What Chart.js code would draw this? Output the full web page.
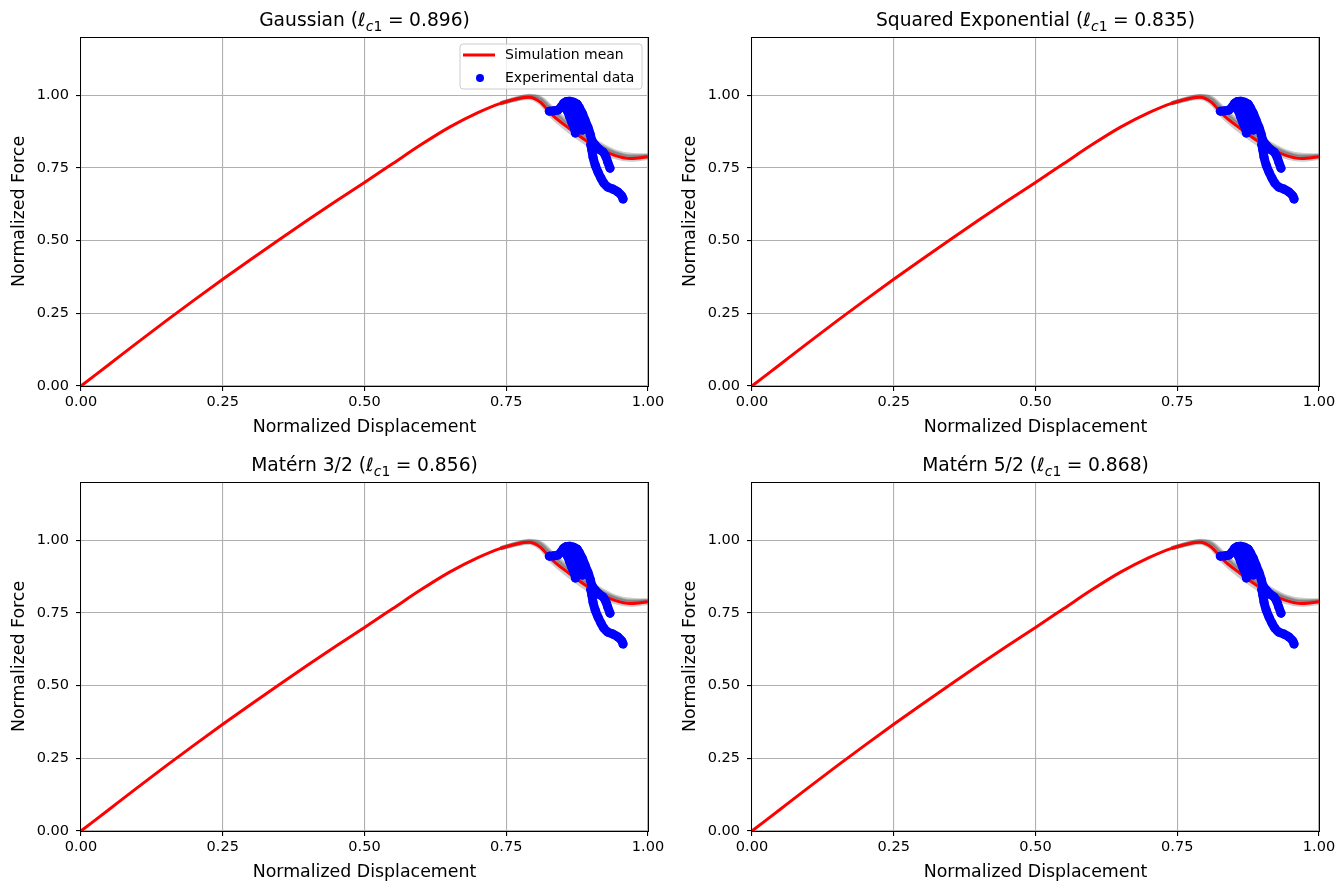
<!DOCTYPE html>
<html>
<head>
<meta charset="utf-8">
<script src="https://cdn.jsdelivr.net/npm/chart.js@4.4.1/dist/chart.umd.min.js"></script>
<style>
  html, body { margin: 0; padding: 0; background: #fff; }
  #wrap { position: relative; width: 1341px; height: 884px; overflow: hidden; }
  canvas { position: absolute; }
</style>
</head>
<body>
<div id="wrap">
  <canvas id="c0" width="671" height="445" style="left:0;top:0"></canvas>
  <canvas id="c1" width="670" height="445" style="left:671px;top:0"></canvas>
  <canvas id="c2" width="671" height="439" style="left:0;top:445px"></canvas>
  <canvas id="c3" width="670" height="439" style="left:671px;top:445px"></canvas>
</div>
<script>
// ---------- data ----------
const kernelNames = ['Gaussian', 'Squared Exponential', 'Matérn 3/2', 'Matérn 5/2'];
const ellValues = ['0.896', '0.835', '0.856', '0.868'];
const xTicks = [0, 0.25, 0.5, 0.75, 1.0];
const yTicks = [0, 0.25, 0.5, 0.75, 1.0];

const meanX = [0, 0.05, 0.10, 0.15, 0.20, 0.25, 0.30, 0.35, 0.40, 0.45, 0.50, 0.55, 0.60, 0.65, 0.70, 0.74, 0.77, 0.79, 0.81, 0.83, 0.86, 0.90, 0.94, 0.97, 1.00];
const meanY = [0, 0.075, 0.150, 0.224, 0.296, 0.367, 0.436, 0.504, 0.571, 0.636, 0.700, 0.765, 0.830, 0.890, 0.940, 0.972, 0.988, 0.993, 0.976, 0.934, 0.887, 0.832, 0.794, 0.782, 0.788];

// simulation samples (gray band), only where they differ from the mean
const sampleX = [0.74, 0.77, 0.79, 0.81, 0.83, 0.86, 0.90, 0.94, 0.97, 1.00];
const sample1 = [0.972, 0.990, 0.997, 0.988, 0.952, 0.900, 0.845, 0.803, 0.790, 0.791];
const sample2 = [0.972, 0.986, 0.990, 0.972, 0.927, 0.877, 0.823, 0.788, 0.778, 0.784];
const sample3 = [0.972, 0.990, 0.998, 0.992, 0.958, 0.906, 0.850, 0.808, 0.795, 0.793];
const sample4 = [0.972, 0.987, 0.994, 0.982, 0.943, 0.893, 0.838, 0.799, 0.786, 0.789];
const sample5 = [0.972, 0.988, 0.995, 0.985, 0.946, 0.895, 0.841, 0.801, 0.788, 0.790];

// experimental data (ordered traces)
const headX = [0.826, 0.834, 0.841, 0.847, 0.851, 0.856, 0.862, 0.869, 0.875];
const headY = [0.945, 0.946, 0.949, 0.960, 0.972, 0.978, 0.979, 0.976, 0.969];
const leftX = [0.853, 0.858, 0.862, 0.866, 0.870, 0.872];
const leftY = [0.962, 0.945, 0.925, 0.905, 0.887, 0.870];
const midX = [0.866, 0.870, 0.874, 0.877, 0.880, 0.884];
const midY = [0.972, 0.955, 0.935, 0.915, 0.897, 0.880];
const rightX = [0.875, 0.879, 0.884, 0.889, 0.894, 0.898, 0.901, 0.907, 0.914, 0.921, 0.926, 0.929, 0.933];
const rightY = [0.969, 0.957, 0.938, 0.914, 0.890, 0.866, 0.845, 0.828, 0.814, 0.804, 0.787, 0.770, 0.749];
const lowX = [0.899, 0.901, 0.903, 0.907, 0.912, 0.917, 0.922, 0.929, 0.938, 0.947, 0.954, 0.956];
const lowY = [0.830, 0.811, 0.787, 0.759, 0.735, 0.715, 0.698, 0.684, 0.677, 0.667, 0.653, 0.643];

// ---------- helpers ----------
const FONT = "'DejaVu Sans', 'Liberation Sans', sans-serif";
const zip = (xs, ys) => xs.map((x, i) => ({ x: x, y: ys[i] }));

function buildDatasets() {
  const ds = [];
  [sample1, sample2, sample3, sample4, sample5].forEach(s => {
    ds.push({ data: zip(sampleX, s), showLine: true, borderColor: 'rgba(100,100,100,0.33)', borderWidth: 4,
      pointRadius: 0, cubicInterpolationMode: 'monotone', order: 3 });
  });
  ds.push({ data: zip(meanX, meanY), showLine: true, borderColor: '#ff0000', borderWidth: 3,
    pointRadius: 0, cubicInterpolationMode: 'monotone', order: 2 });
  [[headX, headY], [leftX, leftY], [midX, midY], [rightX, rightY], [lowX, lowY]].forEach(p => {
    ds.push({ data: zip(p[0], p[1]), showLine: true, borderColor: '#0000ff', borderWidth: 9,
      borderCapStyle: 'round', borderJoinStyle: 'round', tension: 0.3,
      pointRadius: 4.5, pointBackgroundColor: '#0000ff', pointBorderWidth: 0, order: 1 });
  });
  return ds;
}

function drawTitle(ctx, cx, baseline, name, val) {
  const segs = [
    { t: name + ' (', f: '18.7px ' + FONT, dy: 0, gap: 0 },
    { t: 'ℓ', f: 'italic 18.7px ' + FONT, dy: 0, gap: 0 },
    { t: 'c', f: 'italic 14px ' + FONT, dy: 4.5, gap: 0 },
    { t: '1', f: '14px ' + FONT, dy: 4.5, gap: 5.5 },
    { t: '=', f: '18.7px ' + FONT, dy: 0, gap: 5.5 },
    { t: val, f: '18.7px ' + FONT, dy: 0, gap: 0 },
    { t: ')', f: '18.7px ' + FONT, dy: 0, gap: 0 }
  ];
  let total = 0;
  segs.forEach(s => { ctx.font = s.f; s.w = ctx.measureText(s.t).width; total += s.w + s.gap; });
  total -= segs[segs.length - 1].gap;
  let x = cx - total / 2;
  ctx.fillStyle = '#000';
  ctx.textBaseline = 'alphabetic';
  ctx.textAlign = 'left';
  segs.forEach(s => { ctx.font = s.f; ctx.fillText(s.t, x, baseline + s.dy); x += s.w + s.gap; });
}

const decor = {
  id: 'decor',
  afterDraw(chart, args, opts) {
    const ctx = chart.ctx;
    const a = chart.chartArea;
    ctx.save();
    // spines
    ctx.strokeStyle = '#000';
    ctx.lineWidth = 1;
    ctx.strokeRect(Math.round(a.left) - 0.5, Math.round(a.top) + 0.5, Math.round(a.right - a.left) + 1, Math.round(a.bottom - a.top));
    // title
    drawTitle(ctx, (a.left + a.right) / 2, a.top - 11, kernelNames[opts.idx], ellValues[opts.idx]);
    // axis labels
    ctx.fillStyle = '#000';
    ctx.font = '17.4px ' + FONT;
    ctx.textAlign = 'center';
    ctx.textBaseline = 'middle';
    ctx.fillText('Normalized Displacement', (a.left + a.right) / 2, a.bottom + 41);
    ctx.save();
    ctx.translate(a.left - 62, (a.top + a.bottom) / 2);
    ctx.rotate(-Math.PI / 2);
    ctx.fillText('Normalized Force', 0, 0);
    ctx.restore();
    // legend
    if (opts.idx === 0) {
      const bx = a.right - 188, by = a.top + 7, bw = 182, bh = 45, r = 3;
      ctx.beginPath();
      ctx.moveTo(bx + r, by);
      ctx.arcTo(bx + bw, by, bx + bw, by + bh, r);
      ctx.arcTo(bx + bw, by + bh, bx, by + bh, r);
      ctx.arcTo(bx, by + bh, bx, by, r);
      ctx.arcTo(bx, by, bx + bw, by, r);
      ctx.closePath();
      ctx.fillStyle = 'rgba(255,255,255,0.8)';
      ctx.fill();
      ctx.strokeStyle = '#cccccc';
      ctx.lineWidth = 1;
      ctx.stroke();
      ctx.strokeStyle = '#ff0000';
      ctx.lineWidth = 3;
      ctx.beginPath();
      ctx.moveTo(bx + 3, by + 11);
      ctx.lineTo(bx + 35, by + 11);
      ctx.stroke();
      ctx.fillStyle = '#0000ff';
      ctx.beginPath();
      ctx.arc(bx + 20, by + 34, 4, 0, Math.PI * 2);
      ctx.fill();
      ctx.fillStyle = '#000';
      ctx.font = '14px ' + FONT;
      ctx.textAlign = 'left';
      ctx.textBaseline = 'middle';
      ctx.fillText('Simulation mean', bx + 45, by + 11);
      ctx.fillText('Experimental data', bx + 45, by + 34);
    }
    ctx.restore();
  }
};

function makeChart(id, idx) {
  const canvas = document.getElementById(id);
  const W = canvas.width, H = canvas.height;
  const left = 81, top = 37, right = 648, bottom = 386, xAxisH = 56;
  new Chart(canvas, {
    type: 'scatter',
    data: { datasets: buildDatasets() },
    plugins: [decor],
    options: {
      responsive: false,
      animation: false,
      devicePixelRatio: 1,
      events: [],
      layout: { padding: { left: 0, top: top, right: W - right, bottom: H - bottom - xAxisH } },
      plugins: { legend: { display: false }, tooltip: { enabled: false }, title: { display: false }, decor: { idx: idx } },
      scales: {
        x: {
          type: 'linear', min: 0, max: 1,
          afterBuildTicks: s => { s.ticks = xTicks.map(v => ({ value: v })); },
          afterFit: s => { s.height = xAxisH; },
          border: { display: false },
          grid: { color: '#b0b0b0', lineWidth: 1.1, tickColor: '#000', tickLength: 5, drawTicks: true },
          ticks: { font: { family: FONT, size: 14.5 }, color: '#000', padding: 3, maxRotation: 0, autoSkip: false,
            callback: v => Number(v).toFixed(2) }
        },
        y: {
          type: 'linear', min: 0, max: 1.2,
          afterBuildTicks: s => { s.ticks = yTicks.map(v => ({ value: v })); },
          afterFit: s => { s.width = left; },
          border: { display: false },
          grid: { color: '#b0b0b0', lineWidth: 1.1, tickColor: '#000', tickLength: 5, drawTicks: true },
          ticks: { font: { family: FONT, size: 14.5 }, color: '#000', padding: 7, autoSkip: false,
            callback: v => Number(v).toFixed(2) }
        }
      }
    }
  });
}

makeChart('c0', 0);
makeChart('c1', 1);
makeChart('c2', 2);
makeChart('c3', 3);
</script>
</body>
</html>
